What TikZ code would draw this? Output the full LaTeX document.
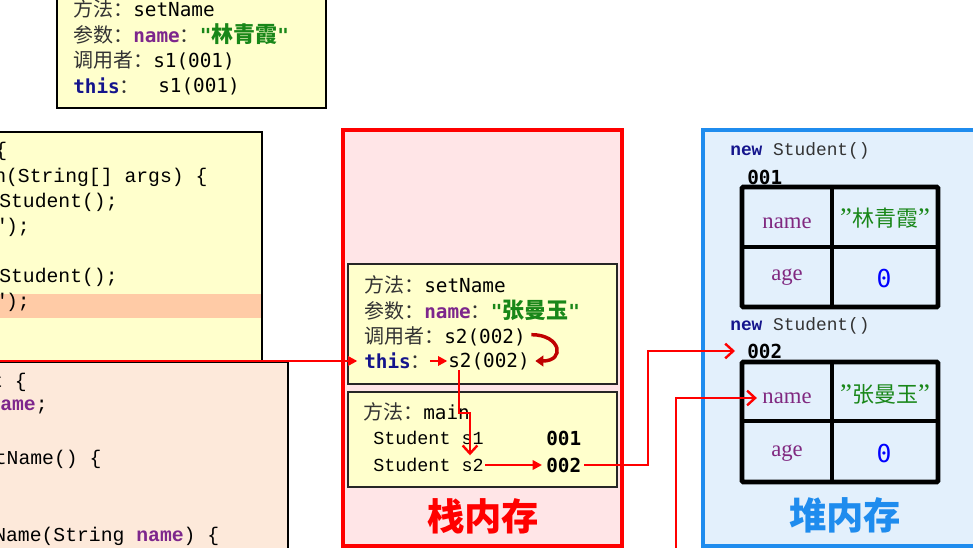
\documentclass[tikz,border=0pt]{standalone}
\usepackage{fontspec}
\usetikzlibrary{arrows.meta}
\newfontfamily\cjk{Noto Sans CJK SC}
\newfontfamily\cmono{DejaVu Sans Mono}
\newfontfamily\cour{Liberation Mono}
\newfontfamily\tms{Liberation Serif}
\newcommand\fsz[1]{\fontsize{#1}{#1}\selectfont}
\definecolor{yel}{HTML}{FFFFCC}
\definecolor{hlc}{HTML}{FFCBA6}
\definecolor{peach}{HTML}{FDE9DA}
\definecolor{stackbg}{HTML}{FFE5E7}
\definecolor{heapbg}{HTML}{E3F0FC}
\definecolor{heapblue}{HTML}{1F8CEE}
\definecolor{purp}{RGB}{125,38,140}
\definecolor{tpurp}{RGB}{128,40,128}
\definecolor{grn}{RGB}{25,135,25}
\definecolor{navy}{RGB}{20,20,140}
\definecolor{dred}{HTML}{C00000}
\definecolor{lbl}{HTML}{333333}
\newcommand\zh[1]{{\cjk\fsz{15pt}\color{lbl}#1}}
\newcommand\zhg[1]{{\cjk\fsz{16.5pt}\bfseries\color{grn}#1}}
\begin{document}
\begin{tikzpicture}[x=0.75pt,y=-0.75pt,
  txt/.style={anchor=west,inner sep=0pt,font=\fsz{14.5pt}},
  code/.style={anchor=west,inner sep=0pt,font=\cour\fsz{14.8pt}},
  ctr/.style={inner sep=0pt},
  cell/.style={inner sep=0pt,font=\tms\fsz{17pt},text=tpurp},
  tbl/.style={draw=black,line width=3.6pt,rounded corners=1pt},
  arrT/.style={draw=red,line width=1.8pt,-{Triangle[length=7pt,width=7pt]}},
  arrV/.style={draw=red,line width=1.8pt,-{Straight Barb[length=6pt,width=11pt]}},
  curv/.style={draw=dred,line width=2.6pt,-{Triangle[length=6pt,width=8pt]}}]
\useasboundingbox (0,0) rectangle (973,548);
\clip (0,0) rectangle (973,548);

% ---------- top box ----------
\filldraw[fill=yel,draw=black,line width=1.5pt] (57,-10) rectangle (326,108);
\node[txt] (t1) at (73,9) {\zh{方法：}{\cmono setName}};
\node[txt] (t2) at (73,34) {\zh{参数：}{\cmono\bfseries\color{purp}name}\zh{：}{\cmono\bfseries\color{grn}"}\zhg{林青霞}{\cmono\bfseries\color{grn}"}};
\node[txt] (t3) at (73,60) {\zh{调用者：}{\cmono s1(001)}};
\node[txt] (t4) at (73,86) {{\cmono\bfseries\color{navy}this}\zh{：}};
\node[txt] (t4b) at (158,86) {\cmono s1(001)};

% ---------- left code boxes ----------
\filldraw[fill=yel,draw=black,line width=1pt] (-10,132) rectangle (262,380);
\fill[hlc] (-10,294) rectangle (261.4,318);
\node[code] (c1) at (-5,151) {\{};
\node[code] (c2) at (-6,177) {n(String[] args) \{};
\node[code] (c3) at (-1,202) {Student();};
\node[code] (c4) at (-6,227) {");};
\node[code] (c5) at (-1,277) {Student();};
\node[code] (c6) at (-6,302) {");};

\filldraw[fill=peach,draw=black,line width=1pt] (-10,362) rectangle (288,570);
\node[code] (p1) at (-9,382) {t \{};
\node[code] (p2) at (-11.8,407) {{\bfseries\color{purp}name};};
\node[code] (p3) at (-5.4,459) {tName() \{};
\node[code] (p4) at (-6,536) {Name(String {\bfseries\color{purp}name}) \{};

% ---------- stack ----------
\filldraw[fill=stackbg,draw=red,line width=3pt] (343,130) rectangle (622,546);
\filldraw[fill=yel,draw=black!85,line width=1pt] (348,264) rectangle (617,384);
\filldraw[fill=yel,draw=black!85,line width=1pt] (348,392) rectangle (617,487);

\node[txt] (m1) at (364,285) {\zh{方法：}{\cmono setName}};
\node[txt] (m2) at (364,310) {\zh{参数：}{\cmono\bfseries\color{purp}name}\zh{：}{\cmono\bfseries\color{grn}"}\zhg{张曼玉}{\cmono\bfseries\color{grn}"}};
\node[txt] (caller) at (364,336) {\zh{调用者：}{\cmono s2(002)}};
\node[txt] (thisL) at (364,361) {{\cmono\bfseries\color{navy}this}\zh{：}};
\node[txt] (s2b) at (448,361) {\cmono s2(002)};

\node[txt] (mm) at (363,412) {\zh{方法：}{\cmono main}};
\node[txt,font=\cour\fsz{13.8pt}] (stS1) at (373,438) {Student s1};
\node[txt,font=\cour\fsz{13.8pt}] (stS2) at (373,465) {Student s2};
\node[txt,font=\cmono\bfseries\fsz{14.5pt}] (v001) at (546,438) {001};
\node[txt,font=\cmono\bfseries\fsz{14.5pt}] (v002) at (546,465) {002};

\node[ctr,font=\cjk\bfseries\fsz{28pt},text=red] (stackT) at (483,516) {栈内存};

% ---------- heap ----------
\filldraw[fill=heapbg,draw=heapblue,line width=3pt] (703,130) rectangle (990,546);
\node[txt,font=\cour\fsz{13.4pt}] (hnew1) at (730,151) {{\bfseries\color{navy}new} {\color{lbl}Student()}};
\node[txt,font=\cmono\bfseries\fsz{14.5pt}] (h001) at (747,177) {001};
\draw[tbl] (742,187) rectangle (938,307);
\draw[tbl] (832,187) -- (832,307);
\draw[tbl] (742,247) -- (938,247);
\node[cell] (hname1) at (787,223) {name};
\node[ctr,font=\cjk\fsz{16.5pt},text=grn] (hval1) at (885,218) {{\tms\fsz{20pt}”}林青霞{\tms\fsz{20pt}”}};
\node[cell] (hage1) at (787,277) {age};
\node[ctr,font=\cmono\fsz{18.5pt},text=blue] (hz1) at (884,279) {0};

\node[txt,font=\cour\fsz{13.4pt}] (hnew2) at (730,326) {{\bfseries\color{navy}new} {\color{lbl}Student()}};
\node[txt,font=\cmono\bfseries\fsz{14.5pt}] (h002) at (747,351) {002};
\draw[tbl] (742,362) rectangle (938,482);
\draw[tbl] (832,362) -- (832,482);
\draw[tbl] (742,421) -- (938,421);
\node[cell] (hname2) at (787,398) {name};
\node[ctr,font=\cjk\fsz{16.5pt},text=grn] (hval2) at (885,394) {{\tms\fsz{20pt}”}张曼玉{\tms\fsz{20pt}”}};
\node[cell] (hage2) at (787,453) {age};
\node[ctr,font=\cmono\fsz{18.5pt},text=blue] (hz2) at (884,454) {0};

\node[ctr,font=\cjk\bfseries\fsz{28pt},text=heapblue] (heapT) at (845,515) {堆内存};

% ---------- connectors ----------
\coordinate (lin) at (-5,361);
\draw[arrT] (lin) -- ([xshift=-5pt]thisL.west);
\draw[arrT] ([xshift=-1pt]thisL.east) -- ([xshift=-0.5pt]s2b.west);
\draw[curv] ([xshift=4pt,yshift=1pt]caller.east) .. controls +(30,0) and +(30,0) .. ([xshift=4pt]s2b.east);
\coordinate (b1) at (459,413);
\coordinate (b2) at (470,413);
\draw[arrV] (b1 |- s2b.south) -- (b1) -- (b2) -- ([yshift=2pt]b2 |- stS2.north);
\draw[arrT] ([xshift=1pt]stS2.east) -- ([xshift=-3pt]v002.west);
\coordinate (bend1) at (648,0);
\draw[arrV] ([xshift=2pt]v002.east) -- (v002.east -| bend1) -- (bend1 |- h002.west) -- ([xshift=-9pt]h002.west);
\coordinate (bot2) at (676,552);
\draw[arrV] (bot2) -- (bot2 |- hname2.west) -- ([xshift=-4pt]hname2.west);
\end{tikzpicture}
\end{document}
